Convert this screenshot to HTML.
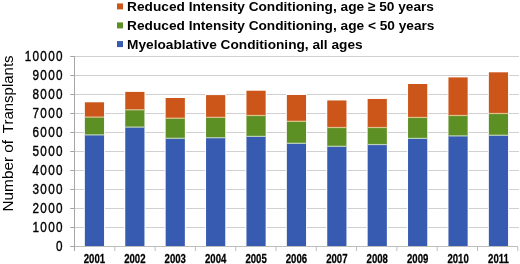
<!DOCTYPE html><html><head><meta charset="utf-8"><style>html,body{margin:0;padding:0;background:#fff;}svg{display:block;filter:blur(0.3px)}</style></head><body>
<svg width="520" height="264" viewBox="0 0 520 264" style="font-family:'Liberation Sans',sans-serif">
<rect width="520" height="264" fill="#fff"/>
<line x1="74.5" x2="519" y1="227.50" y2="227.50" stroke="#d0d0d0" stroke-width="1"/>
<line x1="74.5" x2="519" y1="208.50" y2="208.50" stroke="#d0d0d0" stroke-width="1"/>
<line x1="74.5" x2="519" y1="189.50" y2="189.50" stroke="#d0d0d0" stroke-width="1"/>
<line x1="74.5" x2="519" y1="170.50" y2="170.50" stroke="#d0d0d0" stroke-width="1"/>
<line x1="74.5" x2="519" y1="151.50" y2="151.50" stroke="#d0d0d0" stroke-width="1"/>
<line x1="74.5" x2="519" y1="132.50" y2="132.50" stroke="#d0d0d0" stroke-width="1"/>
<line x1="74.5" x2="519" y1="113.50" y2="113.50" stroke="#d0d0d0" stroke-width="1"/>
<line x1="74.5" x2="519" y1="94.50" y2="94.50" stroke="#d0d0d0" stroke-width="1"/>
<line x1="74.5" x2="519" y1="75.50" y2="75.50" stroke="#d0d0d0" stroke-width="1"/>
<line x1="74.5" x2="519" y1="56.50" y2="56.50" stroke="#d0d0d0" stroke-width="1"/>
<rect x="83.95" y="101.40" width="21.00" height="144.60" fill="#fff"/>
<rect x="84.85" y="134.90" width="19.2" height="111.10" fill="rgb(55,91,177)"/>
<rect x="84.85" y="117.10" width="19.2" height="17.80" fill="rgb(92,144,36)"/>
<rect x="84.85" y="102.30" width="19.2" height="14.80" fill="rgb(204,86,26)"/>
<rect x="84.85" y="116.50" width="19.2" height="1.2" fill="#dcc28e"/>
<rect x="84.85" y="134.30" width="19.2" height="1.2" fill="#bccfb8"/>
<rect x="124.35" y="91.00" width="21.00" height="155.00" fill="#fff"/>
<rect x="125.25" y="127.10" width="19.2" height="118.90" fill="rgb(55,91,177)"/>
<rect x="125.25" y="109.80" width="19.2" height="17.30" fill="rgb(92,144,36)"/>
<rect x="125.25" y="91.90" width="19.2" height="17.90" fill="rgb(204,86,26)"/>
<rect x="125.25" y="109.20" width="19.2" height="1.2" fill="#dcc28e"/>
<rect x="125.25" y="126.50" width="19.2" height="1.2" fill="#bccfb8"/>
<rect x="164.75" y="97.10" width="21.00" height="148.90" fill="#fff"/>
<rect x="165.65" y="138.30" width="19.2" height="107.70" fill="rgb(55,91,177)"/>
<rect x="165.65" y="118.20" width="19.2" height="20.10" fill="rgb(92,144,36)"/>
<rect x="165.65" y="98.00" width="19.2" height="20.20" fill="rgb(204,86,26)"/>
<rect x="165.65" y="117.60" width="19.2" height="1.2" fill="#dcc28e"/>
<rect x="165.65" y="137.70" width="19.2" height="1.2" fill="#bccfb8"/>
<rect x="205.15" y="94.20" width="21.00" height="151.80" fill="#fff"/>
<rect x="206.05" y="137.70" width="19.2" height="108.30" fill="rgb(55,91,177)"/>
<rect x="206.05" y="117.35" width="19.2" height="20.35" fill="rgb(92,144,36)"/>
<rect x="206.05" y="95.10" width="19.2" height="22.25" fill="rgb(204,86,26)"/>
<rect x="206.05" y="116.75" width="19.2" height="1.2" fill="#dcc28e"/>
<rect x="206.05" y="137.10" width="19.2" height="1.2" fill="#bccfb8"/>
<rect x="245.55" y="89.80" width="21.00" height="156.20" fill="#fff"/>
<rect x="246.45" y="136.40" width="19.2" height="109.60" fill="rgb(55,91,177)"/>
<rect x="246.45" y="115.50" width="19.2" height="20.90" fill="rgb(92,144,36)"/>
<rect x="246.45" y="90.70" width="19.2" height="24.80" fill="rgb(204,86,26)"/>
<rect x="246.45" y="114.90" width="19.2" height="1.2" fill="#dcc28e"/>
<rect x="246.45" y="135.80" width="19.2" height="1.2" fill="#bccfb8"/>
<rect x="285.95" y="94.10" width="21.00" height="151.90" fill="#fff"/>
<rect x="286.85" y="143.30" width="19.2" height="102.70" fill="rgb(55,91,177)"/>
<rect x="286.85" y="121.30" width="19.2" height="22.00" fill="rgb(92,144,36)"/>
<rect x="286.85" y="95.00" width="19.2" height="26.30" fill="rgb(204,86,26)"/>
<rect x="286.85" y="120.70" width="19.2" height="1.2" fill="#dcc28e"/>
<rect x="286.85" y="142.70" width="19.2" height="1.2" fill="#bccfb8"/>
<rect x="326.35" y="99.55" width="21.00" height="146.45" fill="#fff"/>
<rect x="327.25" y="146.30" width="19.2" height="99.70" fill="rgb(55,91,177)"/>
<rect x="327.25" y="127.50" width="19.2" height="18.80" fill="rgb(92,144,36)"/>
<rect x="327.25" y="100.45" width="19.2" height="27.05" fill="rgb(204,86,26)"/>
<rect x="327.25" y="126.90" width="19.2" height="1.2" fill="#dcc28e"/>
<rect x="327.25" y="145.70" width="19.2" height="1.2" fill="#bccfb8"/>
<rect x="366.75" y="98.05" width="21.00" height="147.95" fill="#fff"/>
<rect x="367.65" y="144.55" width="19.2" height="101.45" fill="rgb(55,91,177)"/>
<rect x="367.65" y="127.50" width="19.2" height="17.05" fill="rgb(92,144,36)"/>
<rect x="367.65" y="98.95" width="19.2" height="28.55" fill="rgb(204,86,26)"/>
<rect x="367.65" y="126.90" width="19.2" height="1.2" fill="#dcc28e"/>
<rect x="367.65" y="143.95" width="19.2" height="1.2" fill="#bccfb8"/>
<rect x="407.15" y="83.10" width="21.00" height="162.90" fill="#fff"/>
<rect x="408.05" y="138.40" width="19.2" height="107.60" fill="rgb(55,91,177)"/>
<rect x="408.05" y="117.45" width="19.2" height="20.95" fill="rgb(92,144,36)"/>
<rect x="408.05" y="84.00" width="19.2" height="33.45" fill="rgb(204,86,26)"/>
<rect x="408.05" y="116.85" width="19.2" height="1.2" fill="#dcc28e"/>
<rect x="408.05" y="137.80" width="19.2" height="1.2" fill="#bccfb8"/>
<rect x="447.55" y="76.50" width="21.00" height="169.50" fill="#fff"/>
<rect x="448.45" y="135.90" width="19.2" height="110.10" fill="rgb(55,91,177)"/>
<rect x="448.45" y="115.50" width="19.2" height="20.40" fill="rgb(92,144,36)"/>
<rect x="448.45" y="77.40" width="19.2" height="38.10" fill="rgb(204,86,26)"/>
<rect x="448.45" y="114.90" width="19.2" height="1.2" fill="#dcc28e"/>
<rect x="448.45" y="135.30" width="19.2" height="1.2" fill="#bccfb8"/>
<rect x="487.95" y="71.40" width="21.00" height="174.60" fill="#fff"/>
<rect x="488.85" y="135.25" width="19.2" height="110.75" fill="rgb(55,91,177)"/>
<rect x="488.85" y="113.50" width="19.2" height="21.75" fill="rgb(92,144,36)"/>
<rect x="488.85" y="72.30" width="19.2" height="41.20" fill="rgb(204,86,26)"/>
<rect x="488.85" y="112.90" width="19.2" height="1.2" fill="#dcc28e"/>
<rect x="488.85" y="134.65" width="19.2" height="1.2" fill="#bccfb8"/>
<line x1="70.2" x2="74.5" y1="246.50" y2="246.50" stroke="#a6a6a6" stroke-width="1"/>
<line x1="70.2" x2="74.5" y1="227.50" y2="227.50" stroke="#a6a6a6" stroke-width="1"/>
<line x1="70.2" x2="74.5" y1="208.50" y2="208.50" stroke="#a6a6a6" stroke-width="1"/>
<line x1="70.2" x2="74.5" y1="189.50" y2="189.50" stroke="#a6a6a6" stroke-width="1"/>
<line x1="70.2" x2="74.5" y1="170.50" y2="170.50" stroke="#a6a6a6" stroke-width="1"/>
<line x1="70.2" x2="74.5" y1="151.50" y2="151.50" stroke="#a6a6a6" stroke-width="1"/>
<line x1="70.2" x2="74.5" y1="132.50" y2="132.50" stroke="#a6a6a6" stroke-width="1"/>
<line x1="70.2" x2="74.5" y1="113.50" y2="113.50" stroke="#a6a6a6" stroke-width="1"/>
<line x1="70.2" x2="74.5" y1="94.50" y2="94.50" stroke="#a6a6a6" stroke-width="1"/>
<line x1="70.2" x2="74.5" y1="75.50" y2="75.50" stroke="#a6a6a6" stroke-width="1"/>
<line x1="70.2" x2="74.5" y1="56.50" y2="56.50" stroke="#a6a6a6" stroke-width="1"/>
<line x1="74.5" x2="518" y1="246.50" y2="246.50" stroke="#bdbdbd" stroke-width="1"/>
<line x1="114.80" x2="114.80" y1="247.00" y2="251.00" stroke="#bdbdbd" stroke-width="1"/>
<line x1="155.10" x2="155.10" y1="247.00" y2="251.00" stroke="#bdbdbd" stroke-width="1"/>
<line x1="195.40" x2="195.40" y1="247.00" y2="251.00" stroke="#bdbdbd" stroke-width="1"/>
<line x1="235.70" x2="235.70" y1="247.00" y2="251.00" stroke="#bdbdbd" stroke-width="1"/>
<line x1="276.00" x2="276.00" y1="247.00" y2="251.00" stroke="#bdbdbd" stroke-width="1"/>
<line x1="316.30" x2="316.30" y1="247.00" y2="251.00" stroke="#bdbdbd" stroke-width="1"/>
<line x1="356.60" x2="356.60" y1="247.00" y2="251.00" stroke="#bdbdbd" stroke-width="1"/>
<line x1="396.90" x2="396.90" y1="247.00" y2="251.00" stroke="#bdbdbd" stroke-width="1"/>
<line x1="437.20" x2="437.20" y1="247.00" y2="251.00" stroke="#bdbdbd" stroke-width="1"/>
<line x1="477.50" x2="477.50" y1="247.00" y2="251.00" stroke="#bdbdbd" stroke-width="1"/>
<line x1="517.80" x2="517.80" y1="247.00" y2="251.00" stroke="#bdbdbd" stroke-width="1"/>
<line x1="74.5" x2="74.5" y1="56.00" y2="251.00" stroke="#a6a6a6" stroke-width="1"/>
<text transform="translate(63.85,250.60) scale(0.82,1)" text-anchor="end" font-size="14.3" letter-spacing="1.6" fill="#000" stroke="#000" stroke-width="0.4">0</text>
<text transform="translate(63.85,231.60) scale(0.82,1)" text-anchor="end" font-size="14.3" letter-spacing="1.6" fill="#000" stroke="#000" stroke-width="0.4">1000</text>
<text transform="translate(63.85,212.60) scale(0.82,1)" text-anchor="end" font-size="14.3" letter-spacing="1.6" fill="#000" stroke="#000" stroke-width="0.4">2000</text>
<text transform="translate(63.85,193.60) scale(0.82,1)" text-anchor="end" font-size="14.3" letter-spacing="1.6" fill="#000" stroke="#000" stroke-width="0.4">3000</text>
<text transform="translate(63.85,174.60) scale(0.82,1)" text-anchor="end" font-size="14.3" letter-spacing="1.6" fill="#000" stroke="#000" stroke-width="0.4">4000</text>
<text transform="translate(63.85,155.60) scale(0.82,1)" text-anchor="end" font-size="14.3" letter-spacing="1.6" fill="#000" stroke="#000" stroke-width="0.4">5000</text>
<text transform="translate(63.85,136.60) scale(0.82,1)" text-anchor="end" font-size="14.3" letter-spacing="1.6" fill="#000" stroke="#000" stroke-width="0.4">6000</text>
<text transform="translate(63.85,117.60) scale(0.82,1)" text-anchor="end" font-size="14.3" letter-spacing="1.6" fill="#000" stroke="#000" stroke-width="0.4">7000</text>
<text transform="translate(63.85,98.60) scale(0.82,1)" text-anchor="end" font-size="14.3" letter-spacing="1.6" fill="#000" stroke="#000" stroke-width="0.4">8000</text>
<text transform="translate(63.85,79.60) scale(0.82,1)" text-anchor="end" font-size="14.3" letter-spacing="1.6" fill="#000" stroke="#000" stroke-width="0.4">9000</text>
<text transform="translate(63.85,60.60) scale(0.82,1)" text-anchor="end" font-size="14.3" letter-spacing="1.6" fill="#000" stroke="#000" stroke-width="0.4">10000</text>
<text transform="translate(94.45,262.6) scale(0.78,1)" text-anchor="middle" font-size="12.3" font-weight="bold" fill="#000" stroke="#000" stroke-width="0.25">2001</text>
<text transform="translate(134.85,262.6) scale(0.78,1)" text-anchor="middle" font-size="12.3" font-weight="bold" fill="#000" stroke="#000" stroke-width="0.25">2002</text>
<text transform="translate(175.25,262.6) scale(0.78,1)" text-anchor="middle" font-size="12.3" font-weight="bold" fill="#000" stroke="#000" stroke-width="0.25">2003</text>
<text transform="translate(215.65,262.6) scale(0.78,1)" text-anchor="middle" font-size="12.3" font-weight="bold" fill="#000" stroke="#000" stroke-width="0.25">2004</text>
<text transform="translate(256.05,262.6) scale(0.78,1)" text-anchor="middle" font-size="12.3" font-weight="bold" fill="#000" stroke="#000" stroke-width="0.25">2005</text>
<text transform="translate(296.45,262.6) scale(0.78,1)" text-anchor="middle" font-size="12.3" font-weight="bold" fill="#000" stroke="#000" stroke-width="0.25">2006</text>
<text transform="translate(336.85,262.6) scale(0.78,1)" text-anchor="middle" font-size="12.3" font-weight="bold" fill="#000" stroke="#000" stroke-width="0.25">2007</text>
<text transform="translate(377.25,262.6) scale(0.78,1)" text-anchor="middle" font-size="12.3" font-weight="bold" fill="#000" stroke="#000" stroke-width="0.25">2008</text>
<text transform="translate(417.65,262.6) scale(0.78,1)" text-anchor="middle" font-size="12.3" font-weight="bold" fill="#000" stroke="#000" stroke-width="0.25">2009</text>
<text transform="translate(458.05,262.6) scale(0.78,1)" text-anchor="middle" font-size="12.3" font-weight="bold" fill="#000" stroke="#000" stroke-width="0.25">2010</text>
<text transform="translate(498.45,262.6) scale(0.78,1)" text-anchor="middle" font-size="12.3" font-weight="bold" fill="#000" stroke="#000" stroke-width="0.25">2011</text>
<text transform="translate(13.4,211.5) rotate(-90)" font-size="15.35" fill="#000">Number of</text>
<text transform="translate(13.4,133.2) rotate(-90)" font-size="15.0" fill="#000">Transplants</text>
<rect x="117" y="3.40" width="6" height="6" fill="rgb(204,86,26)"/>
<text x="127.1" y="10.80" font-size="13.68" font-weight="bold" fill="#000">Reduced Intensity Conditioning, age ≥ 50 years</text>
<rect x="117" y="22.40" width="6" height="6" fill="rgb(92,144,36)"/>
<text x="127.1" y="29.80" font-size="13.68" font-weight="bold" fill="#000">Reduced Intensity Conditioning, age &lt; 50 years</text>
<rect x="117" y="41.10" width="6" height="6" fill="rgb(55,91,177)"/>
<text x="127.1" y="48.50" font-size="13.68" font-weight="bold" fill="#000">Myeloablative Conditioning, all ages</text>
</svg></body></html>
